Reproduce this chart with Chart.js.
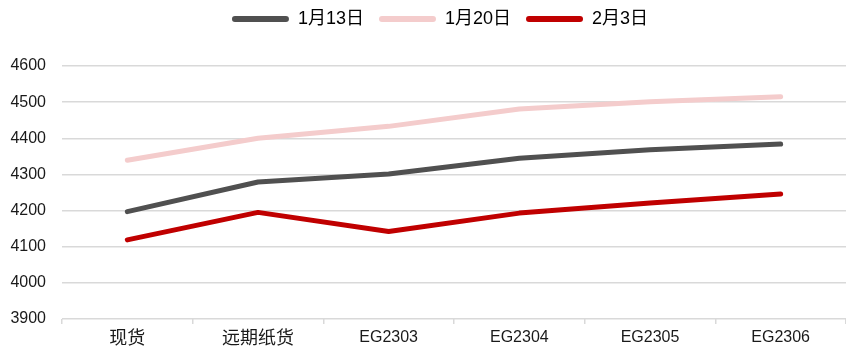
<!DOCTYPE html>
<html>
<head>
<meta charset="utf-8">
<script src="https://cdn.jsdelivr.net/npm/chart.js@4"></script>
<style>
  html, body { margin: 0; padding: 0; background: #fff; }
  #wrap { width: 846px; height: 352px; position: relative; }
</style>
</head>
<body>
<div id="wrap"><canvas id="chart"></canvas></div>
<script>
const categories = ['现货', '远期纸货', 'EG2303', 'EG2304', 'EG2305', 'EG2306'];
const seriesNames = ['1月13日', '1月20日', '2月3日'];
const jan13 = [4197, 4279, 4301, 4345, 4368, 4384];
const jan20 = [4339, 4400, 4433, 4481, 4501, 4515];
const feb3 = [4119, 4195, 4142, 4193, 4221, 4246];
const yTicks = [3900, 4000, 4100, 4200, 4300, 4400, 4500, 4600];

const colors = ['#505050', '#f4cccc', '#c00000'];
const FONT = '"Liberation Sans", Arial, "Noto Sans CJK SC", sans-serif';

function makeSet(label, data, color) {
  return {
    label: label,
    data: data,
    borderColor: color,
    backgroundColor: color,
    borderWidth: 5,
    borderCapStyle: 'round',
    borderJoinStyle: 'round',
    pointRadius: 0,
    pointHoverRadius: 0,
    tension: 0,
    fill: false
  };
}

// plot area starts at a fixed height below the legend; legend itself sits higher
const legendGap = {
  id: 'legendGap',
  beforeInit(chart) {
    const fit = chart.legend.fit;
    chart.legend.fit = function () {
      fit.bind(chart.legend)();
      this.height = 66;
    };
  },
  afterLayout(chart) {
    const lg = chart.legend;
    lg.top = -5;
    lg.left += 17;
    lg.right += 17;
  }
};

new Chart(document.getElementById('chart'), {
  type: 'line',
  data: {
    labels: categories,
    datasets: [
      makeSet(seriesNames[0], jan13, colors[0]),
      makeSet(seriesNames[1], jan20, colors[1]),
      makeSet(seriesNames[2], feb3, colors[2])
    ]
  },
  options: {
    responsive: true,
    maintainAspectRatio: false,
    animation: false,
    layout: { padding: 0 },
    plugins: {
      tooltip: { enabled: false },
      legend: {
        position: 'top',
        labels: {
          boxWidth: 57,
          boxHeight: 6,
          padding: 15,
          color: '#1a1a1a',
          font: { family: FONT, size: 18 },
          generateLabels(chart) {
            return chart.data.datasets.map((ds, i) => ({
              text: ds.label,
              fillStyle: ds.borderColor,
              strokeStyle: ds.borderColor,
              lineWidth: 0,
              borderRadius: 3,
              hidden: false,
              datasetIndex: i
            }));
          }
        }
      }
    },
    scales: {
      x: {
        offset: true,
        grid: {
          offset: true,
          drawOnChartArea: false,
          drawTicks: true,
          tickLength: 5,
          color: '#d9d9d9',
          lineWidth: 1.5
        },
        border: { display: false },
        ticks: {
          color: '#1a1a1a',
          padding: 4,
          maxRotation: 0,
          font: (ctx) => ({ family: FONT, size: ctx.index < 2 ? 18 : 16 })
        },
        afterFit(scale) { scale.height = 33; }
      },
      y: {
        min: 3900,
        max: 4600,
        afterBuildTicks(scale) {
          scale.ticks = yTicks.map(v => ({ value: v }));
        },
        grid: {
          color: '#d9d9d9',
          lineWidth: 1.5,
          drawTicks: false
        },
        border: { display: false },
        ticks: {
          color: '#1a1a1a',
          padding: 16,
          font: { family: FONT, size: 16 },
          callback: (v) => String(v)
        },
        afterFit(scale) { scale.width = 62; }
      }
    }
  },
  plugins: [legendGap]
});
</script>
</body>
</html>
